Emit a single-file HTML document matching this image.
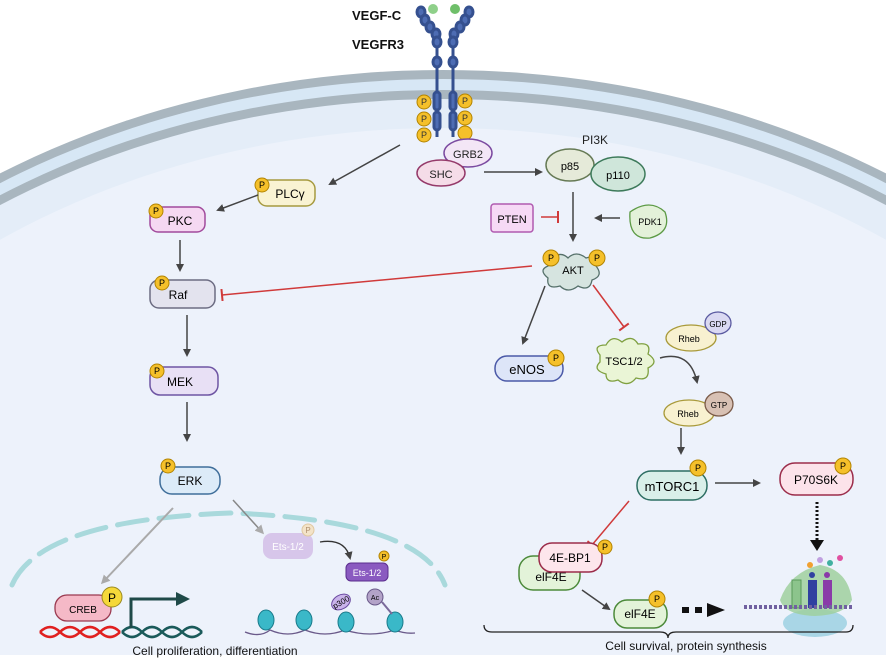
<!DOCTYPE html>
<html><head><meta charset="utf-8"><style>
html,body{margin:0;padding:0;background:#fff;width:886px;height:663px;overflow:hidden}
svg{display:block;font-family:"Liberation Sans",sans-serif}
</style></head><body>
<svg width="886" height="663" viewBox="0 0 886 663" xmlns="http://www.w3.org/2000/svg">
<defs>
<marker id="a" markerWidth="8" markerHeight="8" refX="6" refY="4" orient="auto" markerUnits="userSpaceOnUse"><path d="M0,0 L8,4 L0,8 Z" fill="#444"/></marker>
<marker id="ag" markerWidth="9" markerHeight="9" refX="6" refY="4.5" orient="auto" markerUnits="userSpaceOnUse"><path d="M0,0 L9,4.5 L0,9 Z" fill="#aaa"/></marker>
<marker id="t" markerWidth="4" markerHeight="12" refX="2" refY="6" orient="auto" markerUnits="userSpaceOnUse"><rect x="1" y="0" width="2" height="12" fill="#d03a3a"/></marker>
</defs>
<rect width="886" height="663" fill="#fff"/>
<!-- cell -->
<ellipse cx="443" cy="740" rx="830" ry="670" fill="#a9b6bf"/>
<ellipse cx="443" cy="740" rx="822" ry="661" fill="#d7e7f5"/>
<ellipse cx="443" cy="740" rx="812" ry="650" fill="#a9b6bf"/>
<ellipse cx="443" cy="740" rx="804" ry="641" fill="#e4edf8"/>
<ellipse cx="443" cy="760" rx="780" ry="632" fill="#edf2fb"/>
<rect x="0" y="655" width="886" height="8" fill="#fff"/>
<!-- nucleus -->
<path d="M12,585 Q40,520 230,513 Q420,520 445,585" fill="none" stroke="#a9d9dc" stroke-width="5" stroke-dasharray="30,12" stroke-linecap="round"/>
<!-- receptor -->
<g stroke="#35508f" stroke-width="3" fill="#4d6cb3">
<path d="M437,137 V45 L430,25 L420,10" fill="none"/>
<path d="M453,137 V45 L460,25 L470,10" fill="none"/>
<ellipse cx="421" cy="12" rx="4" ry="5"/><ellipse cx="425" cy="20" rx="4" ry="5"/><ellipse cx="430" cy="27" rx="4" ry="5"/><ellipse cx="436" cy="34" rx="4" ry="5"/><ellipse cx="437" cy="42" rx="4" ry="5"/><ellipse cx="437" cy="62" rx="4" ry="5"/>
<ellipse cx="469" cy="12" rx="4" ry="5"/><ellipse cx="465" cy="20" rx="4" ry="5"/><ellipse cx="460" cy="27" rx="4" ry="5"/><ellipse cx="454" cy="34" rx="4" ry="5"/><ellipse cx="453" cy="42" rx="4" ry="5"/><ellipse cx="453" cy="62" rx="4" ry="5"/>
<rect x="434" y="92" width="6" height="18" rx="3"/><rect x="434" y="112" width="6" height="18" rx="3"/>
<rect x="450" y="92" width="6" height="18" rx="3"/><rect x="450" y="112" width="6" height="18" rx="3"/>
</g>
<circle cx="433" cy="9" r="5" fill="#8fd08a"/><circle cx="455" cy="9" r="5" fill="#6fbf6a"/>
<text x="352" y="20" font-size="13" font-weight="bold" fill="#111">VEGF-C</text>
<text x="352" y="49" font-size="13" font-weight="bold" fill="#111">VEGFR3</text>
<g font-size="9" text-anchor="middle" fill="#333">
<g fill="#f5c02a" stroke="#b38400"><circle cx="424" cy="102" r="7"/><circle cx="424" cy="119" r="7"/><circle cx="424" cy="135" r="7"/><circle cx="465" cy="101" r="7"/><circle cx="465" cy="118" r="7"/><circle cx="465" cy="133" r="7"/></g>
<text x="424" y="105">P</text><text x="424" y="122">P</text><text x="424" y="138">P</text><text x="465" y="104">P</text><text x="465" y="121">P</text>
</g>
<ellipse cx="468" cy="153" rx="24" ry="14" fill="#f3e6f6" stroke="#7b4aa0" stroke-width="1.5"/>
<ellipse cx="441" cy="173" rx="24" ry="13" fill="#f5dce8" stroke="#953a6a" stroke-width="1.5"/>
<text x="468" y="158" font-size="11" text-anchor="middle" fill="#222">GRB2</text>
<text x="441" y="178" font-size="11" text-anchor="middle" fill="#222">SHC</text>
<!-- PI3K -->
<text x="595" y="144" font-size="12" text-anchor="middle" fill="#222">PI3K</text>
<ellipse cx="570" cy="165" rx="24" ry="16" fill="#e5ead9" stroke="#667a55" stroke-width="1.5"/>
<ellipse cx="618" cy="174" rx="27" ry="17" fill="#cfe6da" stroke="#3d7a5a" stroke-width="1.5"/>
<text x="570" y="170" font-size="11" text-anchor="middle">p85</text>
<text x="618" y="179" font-size="11" text-anchor="middle">p110</text>
<line x1="484" y1="172" x2="541" y2="172" stroke="#444" stroke-width="1.5" marker-end="url(#a)"/>
<line x1="573" y1="192" x2="573" y2="240" stroke="#444" stroke-width="1.5" marker-end="url(#a)"/>
<rect x="491" y="204" width="42" height="28" rx="3" fill="#f6d9f5" stroke="#b05ab0" stroke-width="1.5"/>
<text x="512" y="223" font-size="11" text-anchor="middle">PTEN</text>
<line x1="541" y1="217" x2="558" y2="217" stroke="#d03a3a" stroke-width="1.5" marker-end="url(#t)"/>
<path d="M630,212 Q650,198 665,212 Q672,232 650,238 Q628,240 630,212Z" fill="#e3f1d9" stroke="#5c9a45" stroke-width="1.3"/>
<text x="650" y="225" font-size="9" text-anchor="middle">PDK1</text>
<line x1="620" y1="218" x2="596" y2="218" stroke="#444" stroke-width="1.5" marker-end="url(#a)"/>
<!-- AKT -->
<path d="M550,260 Q560,250 568,258 Q576,250 586,258 Q598,254 596,266 Q604,276 592,280 Q590,292 578,286 Q568,294 560,286 Q546,290 548,278 Q538,270 548,266 Z" fill="#d6e4e0" stroke="#55706a" stroke-width="1.3"/>
<text x="573" y="274" font-size="11" text-anchor="middle">AKT</text>
<g font-size="9" text-anchor="middle"><circle cx="551" cy="258" r="8" fill="#f5c02a" stroke="#b38400"/><text x="551" y="261">P</text><circle cx="597" cy="258" r="8" fill="#f5c02a" stroke="#b38400"/><text x="597" y="261">P</text></g>
<line x1="532" y1="266" x2="222" y2="295" stroke="#d03a3a" stroke-width="1.5" marker-end="url(#t)"/>
<line x1="545" y1="286" x2="523" y2="343" stroke="#444" stroke-width="1.5" marker-end="url(#a)"/>
<line x1="593" y1="285" x2="624" y2="327" stroke="#d03a3a" stroke-width="1.5" marker-end="url(#t)"/>
<rect x="495" y="356" width="68" height="25" rx="12" fill="#dde5f8" stroke="#4b5aa8" stroke-width="1.5"/>
<text x="527" y="374" font-size="13" text-anchor="middle">eNOS</text>
<path d="M600,355 Q592,345 606,345 Q612,334 622,342 Q632,334 638,344 Q652,342 648,354 Q660,362 648,368 Q650,382 636,378 Q628,388 618,380 Q606,384 606,374 Q592,370 600,362Z" fill="#eaf5d6" stroke="#7fa040" stroke-width="1.3"/>
<text x="624" y="365" font-size="11" text-anchor="middle">TSC1/2</text>
<ellipse cx="691" cy="338" rx="25" ry="13" fill="#f8f1d0" stroke="#a99a3a" stroke-width="1.3"/>
<text x="689" y="342" font-size="9" text-anchor="middle">Rheb</text>
<ellipse cx="718" cy="323" rx="13" ry="11" fill="#dad9f2" stroke="#5a5aa0" stroke-width="1.3"/>
<text x="718" y="327" font-size="8" text-anchor="middle">GDP</text>
<path d="M660,358 Q690,350 697,382" fill="none" stroke="#444" stroke-width="1.5" marker-end="url(#a)"/>
<ellipse cx="689" cy="413" rx="25" ry="13" fill="#f8f1d0" stroke="#a99a3a" stroke-width="1.3"/>
<text x="688" y="417" font-size="9" text-anchor="middle">Rheb</text>
<ellipse cx="719" cy="404" rx="14" ry="12" fill="#d8c1b4" stroke="#7a5a48" stroke-width="1.3"/>
<text x="719" y="408" font-size="8" text-anchor="middle">GTP</text>
<line x1="681" y1="428" x2="681" y2="453" stroke="#444" stroke-width="1.5" marker-end="url(#a)"/>
<rect x="637" y="471" width="70" height="29" rx="14" fill="#d9efe9" stroke="#2d6e63" stroke-width="1.5"/>
<text x="672" y="491" font-size="13" text-anchor="middle">mTORC1</text>
<line x1="715" y1="483" x2="759" y2="483" stroke="#444" stroke-width="1.5" marker-end="url(#a)"/>
<rect x="780" y="463" width="73" height="32" rx="15" fill="#fce3ea" stroke="#9b2c4a" stroke-width="1.5"/>
<text x="816" y="484" font-size="12" text-anchor="middle">P70S6K</text>
<line x1="817" y1="502" x2="817" y2="540" stroke="#111" stroke-width="3" stroke-dasharray="2,2"/>
<path d="M810,540 L824,540 L817,551Z" fill="#111"/>
<line x1="629" y1="501" x2="592" y2="545" stroke="#d03a3a" stroke-width="1.5" marker-end="url(#t)"/>
<rect x="519" y="556" width="61" height="34" rx="14" fill="#e3f3d9" stroke="#4c8a3a" stroke-width="1.5"/>
<text x="551" y="581" font-size="12" text-anchor="middle">elF4E</text>
<rect x="539" y="543" width="63" height="29" rx="13" fill="#fde6ec" stroke="#9b2c4a" stroke-width="1.5"/>
<text x="570" y="562" font-size="12" text-anchor="middle">4E-BP1</text>
<line x1="582" y1="590" x2="609" y2="609" stroke="#444" stroke-width="1.5" marker-end="url(#a)"/>
<rect x="614" y="600" width="53" height="28" rx="13" fill="#e3f3d9" stroke="#4c8a3a" stroke-width="1.5"/>
<text x="640" y="618" font-size="12" text-anchor="middle">elF4E</text>
<g font-size="9" text-anchor="middle"><g fill="#f5c02a" stroke="#b38400"><circle cx="698" cy="468" r="8"/><circle cx="843" cy="466" r="8"/><circle cx="605" cy="547" r="7"/><circle cx="657" cy="599" r="8"/><circle cx="556" cy="358" r="8"/></g>
<text x="698" y="471">P</text><text x="843" y="469">P</text><text x="605" y="550">P</text><text x="657" y="602">P</text><text x="556" y="361">P</text></g>
<rect x="682" y="607" width="7" height="6" fill="#111"/><rect x="695" y="607" width="7" height="6" fill="#111"/>
<path d="M707,603 L725,610 L707,617Z" fill="#111"/>
<!-- ribosome -->
<ellipse cx="815" cy="623" rx="32" ry="14" fill="#a9d6e6"/>
<path d="M780,600 Q790,572 820,565 Q848,570 852,600 Q845,615 815,616 Q785,615 780,600Z" fill="#9fd09e" opacity="0.85"/>
<rect x="792" y="580" width="9" height="28" fill="#8cc48c" stroke="#5a9a5a"/>
<rect x="808" y="580" width="9" height="28" fill="#3040a0"/><rect x="823" y="580" width="9" height="28" fill="#8a3aa8"/>
<circle cx="812" cy="575" r="3" fill="#3040a0"/><circle cx="827" cy="575" r="3" fill="#8a3aa8"/>
<circle cx="810" cy="565" r="3" fill="#f0a030"/><circle cx="820" cy="560" r="3" fill="#c0a0e0"/><circle cx="830" cy="563" r="3" fill="#40b0a0"/><circle cx="840" cy="558" r="3" fill="#e050a0"/>
<line x1="744" y1="607" x2="852" y2="607" stroke="#7060a0" stroke-width="4" stroke-dasharray="3,2"/>
<!-- brace -->
<path d="M484,625 Q484,632 492,632 L660,632 Q668,632 668,638 Q668,632 676,632 L846,632 Q853,632 853,625" fill="none" stroke="#222" stroke-width="1.3"/>
<text x="686" y="650" font-size="12" text-anchor="middle" fill="#111">Cell survival, protein synthesis</text>
<!-- MAPK -->
<line x1="400" y1="145" x2="330" y2="184" stroke="#444" stroke-width="1.5" marker-end="url(#a)"/>
<rect x="258" y="180" width="57" height="26" rx="9" fill="#f9f3d3" stroke="#a69a40" stroke-width="1.5"/>
<text x="290" y="198" font-size="12" text-anchor="middle">PLCγ</text>
<line x1="258" y1="195" x2="218" y2="210" stroke="#444" stroke-width="1.5" marker-end="url(#a)"/>
<rect x="150" y="207" width="55" height="25" rx="8" fill="#f5d8f2" stroke="#a24a9c" stroke-width="1.5"/>
<text x="180" y="225" font-size="12" text-anchor="middle">PKC</text>
<line x1="180" y1="240" x2="180" y2="270" stroke="#444" stroke-width="1.5" marker-end="url(#a)"/>
<rect x="150" y="280" width="65" height="28" rx="9" fill="#e3e3ee" stroke="#6c6c82" stroke-width="1.5"/>
<text x="178" y="299" font-size="12" text-anchor="middle">Raf</text>
<line x1="187" y1="315" x2="187" y2="355" stroke="#444" stroke-width="1.5" marker-end="url(#a)"/>
<rect x="150" y="367" width="68" height="28" rx="10" fill="#e8e0f5" stroke="#6e55a3" stroke-width="1.5"/>
<text x="180" y="386" font-size="12" text-anchor="middle">MEK</text>
<line x1="187" y1="402" x2="187" y2="440" stroke="#444" stroke-width="1.5" marker-end="url(#a)"/>
<rect x="160" y="467" width="60" height="27" rx="12" fill="#dcebf8" stroke="#3f6e9a" stroke-width="1.5"/>
<text x="190" y="485" font-size="12" text-anchor="middle">ERK</text>
<g font-size="9" text-anchor="middle"><g fill="#f5c02a" stroke="#b38400"><circle cx="262" cy="185" r="7"/><circle cx="156" cy="211" r="7"/><circle cx="162" cy="283" r="7"/><circle cx="157" cy="371" r="7"/><circle cx="168" cy="466" r="7"/></g>
<text x="262" y="188">P</text><text x="156" y="214">P</text><text x="162" y="286">P</text><text x="157" y="374">P</text><text x="168" y="469">P</text></g>
<line x1="173" y1="508" x2="103" y2="582" stroke="#aaa" stroke-width="2" marker-end="url(#ag)"/>
<line x1="233" y1="500" x2="262" y2="532" stroke="#888" stroke-width="1.5" marker-end="url(#ag)"/>
<rect x="263" y="533" width="50" height="26" rx="9" fill="#d7c6ea"/>
<text x="288" y="550" font-size="10" text-anchor="middle" fill="#fff">Ets-1/2</text>
<circle cx="308" cy="530" r="6" fill="#f3e3c8" stroke="#e0c8a0"/><text x="308" y="533" font-size="8" text-anchor="middle" fill="#b09070">P</text>
<path d="M320,542 Q345,538 350,558" fill="none" stroke="#333" stroke-width="1.3" marker-end="url(#a)"/>
<rect x="346" y="563" width="42" height="18" rx="5" fill="#8a5ac0" stroke="#5b2d8e"/>
<text x="367" y="576" font-size="9" text-anchor="middle" fill="#fff">Ets-1/2</text>
<circle cx="384" cy="556" r="5" fill="#f5c02a" stroke="#b38400"/><text x="384" y="559" font-size="7" text-anchor="middle">P</text>
<!-- chromatin -->
<path d="M245,632 Q260,638 270,630 Q288,638 305,630 Q325,638 345,630 Q370,638 395,630 Q405,634 415,633" fill="none" stroke="#6a5a8a" stroke-width="1.3"/>
<g fill="#3ab8c8" stroke="#1a7a8a"><ellipse cx="266" cy="620" rx="8" ry="10"/><ellipse cx="304" cy="620" rx="8" ry="10"/><ellipse cx="346" cy="622" rx="8" ry="10"/><ellipse cx="395" cy="622" rx="8" ry="10"/></g>
<ellipse cx="341" cy="602" rx="10" ry="7" transform="rotate(-30 341 602)" fill="#c9b3ea" stroke="#6a4aa0"/>
<text x="341" y="605" font-size="8" text-anchor="middle" transform="rotate(-30 341 602)">p300</text>
<line x1="382" y1="602" x2="392" y2="614" stroke="#7a6a9a" stroke-width="2"/>
<circle cx="375" cy="597" r="8" fill="#b3a3c8" stroke="#6a5a8a"/><text x="375" y="600" font-size="7" text-anchor="middle">Ac</text>
<!-- CREB / DNA -->
<path d="M40,632 Q50,622 60,632 T80,632 T100,632 T120,632" fill="none" stroke="#e02020" stroke-width="2.5"/>
<path d="M40,632 Q50,642 60,632 T80,632 T100,632 T120,632" fill="none" stroke="#e02020" stroke-width="2.5"/>
<path d="M122,632 Q132,622 142,632 T162,632 T182,632 T202,632" fill="none" stroke="#1a5a5a" stroke-width="2.5"/>
<path d="M122,632 Q132,642 142,632 T162,632 T182,632 T202,632" fill="none" stroke="#1a5a5a" stroke-width="2.5"/>
<rect x="55" y="595" width="56" height="26" rx="12" fill="#f5b9c7" stroke="#9a3a50" stroke-width="1.3"/>
<text x="83" y="613" font-size="10" text-anchor="middle">CREB</text>
<circle cx="112" cy="597" r="10" fill="#f5d83a" stroke="#9a8a20"/><text x="112" y="602" font-size="12" text-anchor="middle">P</text>
<path d="M131,628 V599 H178" fill="none" stroke="#1f4a48" stroke-width="3"/>
<path d="M176,592 L190,599 L176,606Z" fill="#1f4a48"/>
<text x="215" y="655" font-size="12" text-anchor="middle" fill="#111">Cell proliferation, differentiation</text>
</svg>
</body></html>
